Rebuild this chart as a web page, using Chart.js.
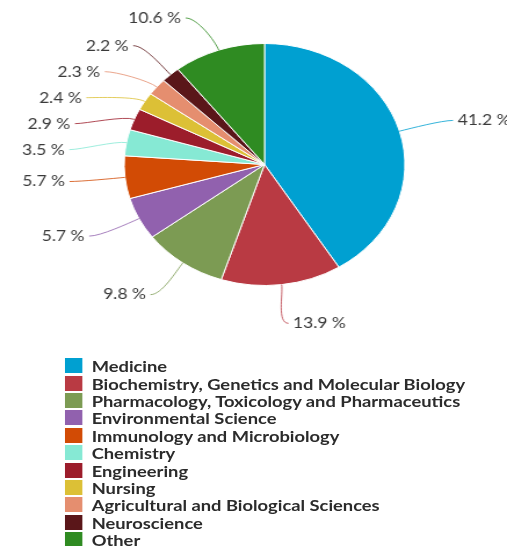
<!DOCTYPE html>
<html>
<head>
<meta charset="utf-8">
<script src="https://cdn.jsdelivr.net/npm/chart.js@4"></script>
<style>
  html, body { margin: 0; padding: 0; background: #fff; }
  #wrap { position: absolute; left: 0; top: 0; width: 437px; height: 546px; transform: scaleX(1.1602); transform-origin: 0 0; }
  #chartBox { position: absolute; left: 0; top: 0; width: 437px; height: 340px; }
  #legend { position: absolute; left: 56px; top: 357px; font-family: Lato, "Open Sans", sans-serif; font-weight: bold; font-size: 15.8px; color: #2b2b2b; }
  .row { display: flex; align-items: center; height: 17.4px; white-space: nowrap; }
  .box { width: 15px; height: 15px; margin-right: 8px; flex: none; }
</style>
</head>
<body>
<div id="wrap">
  <div id="chartBox"><canvas id="c"></canvas></div>
  <div id="legend"></div>
</div>
<script>
const categories = [
  "Medicine",
  "Biochemistry, Genetics and Molecular Biology",
  "Pharmacology, Toxicology and Pharmaceutics",
  "Environmental Science",
  "Immunology and Microbiology",
  "Chemistry",
  "Engineering",
  "Nursing",
  "Agricultural and Biological Sciences",
  "Neuroscience",
  "Other"
];
const values = [41.2, 13.9, 9.8, 5.7, 5.7, 3.5, 2.9, 2.4, 2.3, 2.2, 10.6];
const sliceColors = [
  "#00a0d1", "#b93a43", "#7c9b53", "#9161ae", "#d24b05", "#86e9d4",
  "#9c1d2b", "#dcc036", "#e58e6f", "#5a1619", "#2f8b22"
];

const outsideLabels = {
  id: 'outsideLabels',
  afterDatasetsDraw(chart) {
    const ctx = chart.ctx;
    const meta = chart.getDatasetMeta(0);
    const A = 169, B = 160, gap = 26, topBound = 18;
    const items = meta.data.map((arc, i) => {
      const p = arc.getProps(['x', 'y', 'startAngle', 'endAngle', 'outerRadius'], true);
      const mid = (p.startAngle + p.endAngle) / 2;
      const c = Math.cos(mid), s = Math.sin(mid);
      return {
        i, cx: p.x, cy: p.y, c, s,
        ex: p.x + c * p.outerRadius, ey: p.y + s * p.outerRadius,
        right: c >= 0,
        y: p.y + s * B
      };
    });
    [true, false].forEach(side => {
      const group = items.filter(it => it.right === side).sort((a, b) => a.y - b.y);
      let prev = -Infinity;
      group.forEach((it, k) => {
        let y = Math.max(it.y, topBound);
        if (k > 0) y = Math.max(y, prev + gap);
        it.y = y; prev = y;
      });
    });
    ctx.save();
    ctx.font = '15px Lato, "Open Sans", sans-serif';
    ctx.textBaseline = 'middle';
    items.forEach(it => {
      const dy = it.y - it.cy;
      const dx = A * Math.sqrt(Math.max(0, 1 - (dy / B) * (dy / B)));
      const sign = it.right ? 1 : -1;
      const lx = it.cx + sign * dx;
      const ly = it.y;
      ctx.strokeStyle = sliceColors[it.i];
      ctx.globalAlpha = 0.8;
      ctx.lineWidth = 1;
      ctx.beginPath();
      ctx.moveTo(it.ex, it.ey);
      ctx.bezierCurveTo(it.ex + it.c * 10, it.ey + it.s * 10, lx - sign * 10, ly, lx, ly);
      ctx.stroke();
      ctx.globalAlpha = 1;
      ctx.fillStyle = '#3a3a3a';
      ctx.textAlign = it.right ? 'left' : 'right';
      ctx.fillText(values[it.i].toFixed(1) + ' %', lx + sign * 4, ly);
    });
    ctx.restore();
  }
};

new Chart(document.getElementById('c'), {
  type: 'pie',
  data: {
    labels: categories,
    datasets: [{
      data: values,
      backgroundColor: sliceColors,
      borderColor: '#ffffff',
      borderWidth: 1
    }]
  },
  options: {
    responsive: true,
    maintainAspectRatio: false,
    animation: false,
    layout: { padding: { top: 43, bottom: 54, left: 19, right: 0 } },
    plugins: {
      legend: { display: false },
      tooltip: { enabled: false }
    }
  },
  plugins: [outsideLabels]
});

const legend = document.getElementById('legend');
categories.forEach((name, i) => {
  const row = document.createElement('div');
  row.className = 'row';
  const box = document.createElement('span');
  box.className = 'box';
  box.style.background = sliceColors[i];
  const txt = document.createElement('span');
  txt.textContent = name;
  row.appendChild(box);
  row.appendChild(txt);
  legend.appendChild(row);
});
</script>
</body>
</html>
